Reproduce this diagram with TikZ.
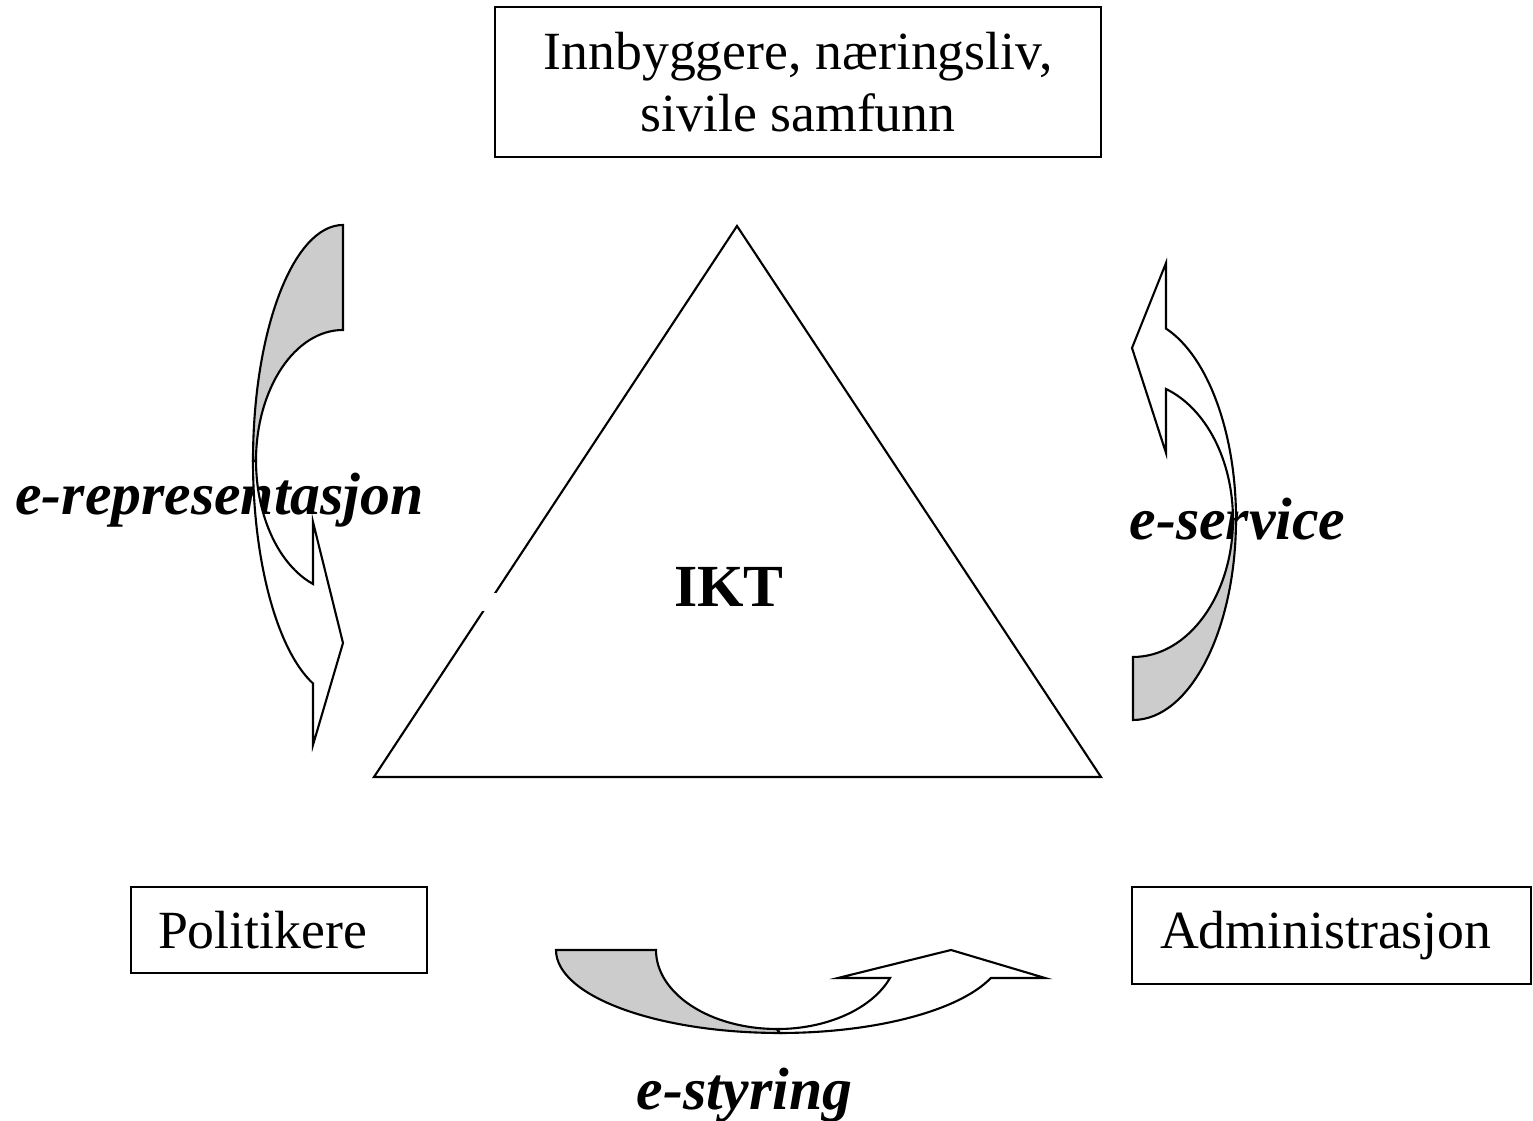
\documentclass[tikz,border=0pt]{standalone}
\usepackage{fontspec}
\setmainfont{Liberation Serif}
\definecolor{backside}{gray}{0.8}
\tikzset{
  groupbox/.style={draw, line width=0.6pt, font=\fontsize{15.3}{17.5}\selectfont},
  elabel/.style={font=\fontsize{17}{20}\selectfont\bfseries\itshape, anchor=base},
  backpart/.style={draw, line width=0.6pt, fill=backside},
  frontpart/.style={draw, line width=0.6pt, fill=white},
}

\begin{document}
\begin{tikzpicture}
\useasboundingbox (0,0) rectangle (15.33,11.21);

% Triangle
\draw[line width=0.6pt] (7.37,8.95) -- (3.74,3.44) -- (11.01,3.44) -- cycle;
\fill[white] (4.70,5.10) rectangle (5.10,5.28);

% The three groups
\node[groupbox, minimum width=6.06cm, minimum height=1.50cm, align=center] (folk) at (7.98,10.39) {Innbyggere, næringsliv,\\ sivile samfunn};
\node[groupbox, text width=2.42cm, inner xsep=0.27cm, minimum height=0.86cm, align=left] (politikere) at (2.79,1.91) {Politikere};
\node[groupbox, text width=3.43cm, inner xsep=0.28cm, minimum height=0.97cm, align=left] (admin) at (13.315,1.855) {Administrasjon};

% Centre
\node[font=\fontsize{17}{20}\selectfont\bfseries, anchor=base] (ikt) at (7.29,5.14) {IKT};

% Labels
\node[elabel] (erep) at (2.195,6.06) {e-representasjon};
\node[elabel] (eserv) at (12.375,5.81) {e-service};
\node[elabel] (estyr) at (7.445,0.11) {e-styring};

% Left arrow
\draw[backpart] (3.43,8.96) arc[start angle=90, end angle=180, x radius=0.90, y radius=2.36] -- (2.56,6.60) arc[start angle=180, end angle=90, x radius=0.87, y radius=1.31] -- cycle;
\draw[frontpart] (2.53,6.60) arc[start angle=180, end angle=250.5, x radius=0.90, y radius=2.36] -- (3.13,3.76) -- (3.43,4.78) -- (3.13,5.99) -- (3.13,5.37) arc[start angle=249.8, end angle=180, x radius=0.87, y radius=1.31] -- cycle;

% Right arrow
\draw[backpart] (11.33,4.01) arc[start angle=-90, end angle=0, x radius=1.03, y radius=2.01] -- (12.33,6.02) arc[start angle=0, end angle=-90, x radius=1.00, y radius=1.38] -- cycle;
\draw[frontpart] (12.36,6.02) arc[start angle=0, end angle=71.3, x radius=1.03, y radius=2.01] -- (11.66,8.58) -- (11.32,7.73) -- (11.66,6.68) -- (11.66,7.32) arc[start angle=70.7, end angle=0, x radius=1.00, y radius=1.38] -- cycle;

% Bottom arrow
\draw[backpart] (5.56,1.71) arc[start angle=180, end angle=270, x radius=2.24, y radius=0.83] -- (7.77,0.92) arc[start angle=270, end angle=180, x radius=1.21, y radius=0.79] -- cycle;
\draw[frontpart] (7.80,0.88) arc[start angle=270, end angle=340.3, x radius=2.24, y radius=0.83] -- (10.45,1.43) -- (9.51,1.71) -- (8.38,1.43) -- (8.90,1.43) arc[start angle=339.3, end angle=270, x radius=1.21, y radius=0.79] -- cycle;

\end{tikzpicture}
\end{document}
